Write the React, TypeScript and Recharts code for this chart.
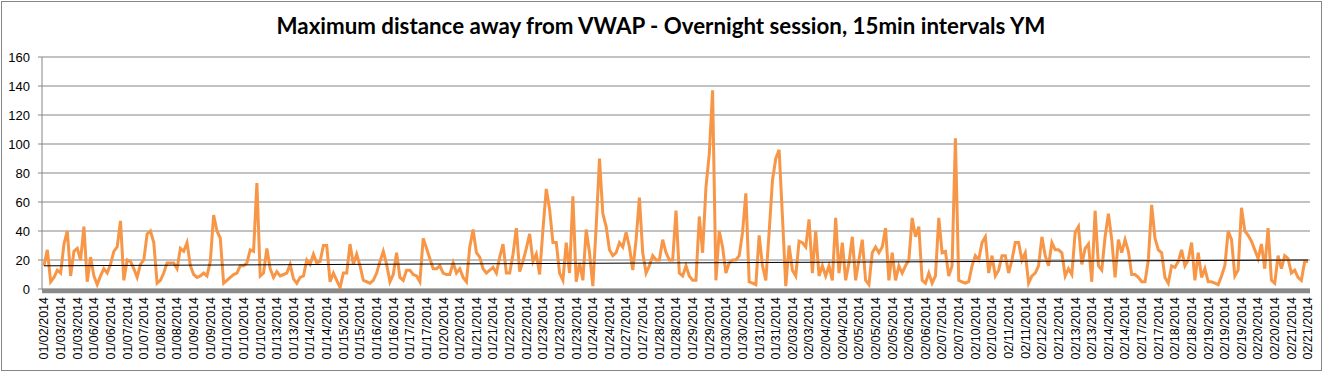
import React from 'react';
import { LineChart, Line, XAxis, YAxis, CartesianGrid, ReferenceLine } from 'recharts';

const title = 'Maximum distance away from VWAP - Overnight session, 15min intervals YM';

// one label every 5 points
const tickLabels = [
    '01/02/2014', '01/03/2014', '01/03/2014', '01/06/2014', '01/06/2014', '01/07/2014', '01/07/2014',
    '01/08/2014', '01/08/2014', '01/09/2014', '01/09/2014', '01/10/2014', '01/10/2014', '01/10/2014',
    '01/13/2014', '01/13/2014', '01/14/2014', '01/14/2014', '01/15/2014', '01/15/2014', '01/16/2014',
    '01/16/2014', '01/17/2014', '01/17/2014', '01/20/2014', '01/20/2014', '01/21/2014', '01/21/2014',
    '01/22/2014', '01/22/2014', '01/23/2014', '01/23/2014', '01/23/2014', '01/24/2014', '01/24/2014',
    '01/27/2014', '01/27/2014', '01/28/2014', '01/28/2014', '01/29/2014', '01/29/2014', '01/30/2014',
    '01/30/2014', '01/31/2014', '01/31/2014', '02/03/2014', '02/03/2014', '02/04/2014', '02/04/2014',
    '02/05/2014', '02/05/2014', '02/05/2014', '02/06/2014', '02/06/2014', '02/07/2014', '02/07/2014',
    '02/10/2014', '02/10/2014', '02/11/2014', '02/11/2014', '02/12/2014', '02/12/2014', '02/13/2014',
    '02/13/2014', '02/14/2014', '02/14/2014', '02/17/2014', '02/17/2014', '02/18/2014', '02/18/2014',
    '02/19/2014', '02/19/2014', '02/19/2014', '02/20/2014', '02/20/2014', '02/21/2014', '02/21/2014',
];
const pointsPerLabel = 5;

// distance from VWAP left to right
const seg1 = [
    16, 27, 5, 8, 13, 11, 31, 40, 9, 26,
    28, 20, 43, 5, 22, 9, 3, 9, 14, 11,
    17, 26, 29, 47, 6, 20, 19, 14, 8, 17,
    20, 38, 40, 32, 4, 6, 11, 18, 18, 18,
    14, 28, 26, 32, 16, 10, 8, 9, 11, 9,
    19, 51, 40, 35, 4, 6, 8, 10, 11, 16,
    16, 18, 27, 26, 73, 9, 11, 28, 14, 8,
    12, 9, 10, 11, 17,
];
const seg2 = [
    7, 4, 8, 9, 20, 17, 24, 18, 19, 30,
    30, 5, 11, 6, 1, 11, 11, 31, 17, 24,
    16, 6, 5, 4, 6, 11, 19, 26, 17, 5,
    10, 25, 8, 6, 13, 13, 10, 9, 5, 35,
    28, 21, 14, 14, 16, 11, 10, 10, 18, 11,
    14, 8, 5, 29, 41, 25, 22, 14, 11, 13,
    15, 11, 22, 31, 11, 11, 24, 42, 12, 19,
    28, 38, 19, 24, 10, 41, 69,
];
const seg3 = [
    55, 32, 32, 11, 6, 32, 11, 64, 5, 18,
    6, 41, 25, 2, 43, 90, 52, 43, 27, 23,
    25, 32, 29, 39, 29, 13, 34, 63, 25, 11,
    16, 23, 20, 20, 34, 25, 20, 20, 54, 11,
    9, 16, 9, 6, 6, 50, 25, 70, 93, 137,
    6, 40, 29, 11, 18, 20, 20, 23, 39, 66,
    5, 4, 3, 37, 16, 6, 39, 75, 90, 96,
    50, 2, 30, 13, 9, 33, 32,
];
const seg4 = [
    29, 48, 11, 40, 9, 16, 9, 16, 6, 49,
    11, 32, 6, 18, 36, 6, 20, 34, 6, 3,
    25, 29, 25, 29, 42, 6, 25, 6, 16, 11,
    16, 20, 49, 36, 43, 6, 4, 11, 4, 9,
    49, 25, 26, 9, 16, 104, 6, 5, 4, 5,
    16, 23, 20, 32, 36, 11, 23, 9, 13, 23,
    23, 11, 20, 32, 32, 20, 25, 4, 9, 11,
    16, 36, 23, 16, 32, 27,
];
const seg5 = [
    27, 25, 9, 14, 10, 39, 43, 17, 28, 31,
    5, 54, 16, 13, 36, 52, 34, 8, 34, 25,
    34, 26, 10, 10, 8, 5, 5, 20, 58, 35,
    27, 25, 8, 4, 16, 15, 19, 27, 16, 20,
    32, 6, 25, 8, 14, 5, 5, 4, 3, 9,
    16, 40, 34, 9, 13, 56, 40, 37, 33, 27,
    21, 31, 14, 42, 6, 4, 23, 14, 23, 21,
    11, 13, 8, 6, 19, 19,
];

// linear trendline ends
const trendStart = 16;
const trendEnd = 20;

const yTicks = [0, 20, 40, 60, 80, 100, 120, 140, 160];

const values = [...seg1, ...seg2, ...seg3, ...seg4, ...seg5];
const data = values.map((v, i) => ({ idx: i, value: v }));
const lastIdx = values.length - 1;
const xTicks = tickLabels.map((_, i) => i * pointsPerLabel);

const GRID = '#868686';

const XTick = (props: any) => {
    const { x, y, payload } = props;
    return (
        <text
            x={x}
            y={y}
            transform={`rotate(-90, ${x}, ${y})`}
            textAnchor="end"
            dy="0.35em"
            fontSize={12.5}
            fontFamily="Liberation Sans, Arial, sans-serif"
            fill="#000"
        >
            {tickLabels[Math.round(payload.value / pointsPerLabel)]}
        </text>
    );
};

export default function App() {
    return (
        <div style={{ position: 'relative', width: 1324, height: 373, background: '#fff' }}>
            <style>{`body{margin:0}`}</style>
            <div style={{
                position: 'absolute', left: 1, top: 1, width: 1321, height: 370,
                boxSizing: 'border-box', border: `1px solid ${GRID}`, pointerEvents: 'none'
            }} />
            <div style={{
                position: 'absolute', left: 0, top: 13, width: 1322, textAlign: 'center',
                fontFamily: 'Lato, sans-serif', fontWeight: 700, fontSize: 22.3, lineHeight: '26px', color: '#000'
            }}>
                {title}
            </div>
            <LineChart width={1324} height={373} data={data} margin={{ top: 57, right: 14, bottom: 0, left: 8 }}>
                <CartesianGrid vertical={false} stroke={GRID} strokeOpacity={1} />
                <XAxis
                    type="number"
                    dataKey="idx"
                    domain={[0, lastIdx]}
                    ticks={xTicks}
                    interval={0}
                    height={84}
                    padding={{ left: 2, right: 2 }}
                    tickLine={false}
                    axisLine={{ stroke: '#8a8a8a', strokeWidth: 4.5, transform: 'translate(0 2)' }}
                    tick={<XTick />}
                />
                <YAxis
                    domain={[0, 160]}
                    ticks={yTicks}
                    width={34}
                    tickSize={4}
                    tickMargin={8}
                    tickLine={{ stroke: GRID }}
                    axisLine={{ stroke: GRID }}
                    tick={{ fill: '#000', fontSize: 13, fontFamily: 'Liberation Sans, Arial, sans-serif' }}
                />
                <Line
                    type="linear"
                    dataKey="value"
                    stroke="#F79646"
                    strokeWidth={3}
                    dot={false}
                    isAnimationActive={false}
                />
                <ReferenceLine
                    segment={[{ x: 0, y: trendStart }, { x: lastIdx, y: trendEnd }]}
                    stroke="#000"
                    strokeWidth={1}
                />
            </LineChart>
        </div>
    );
}
